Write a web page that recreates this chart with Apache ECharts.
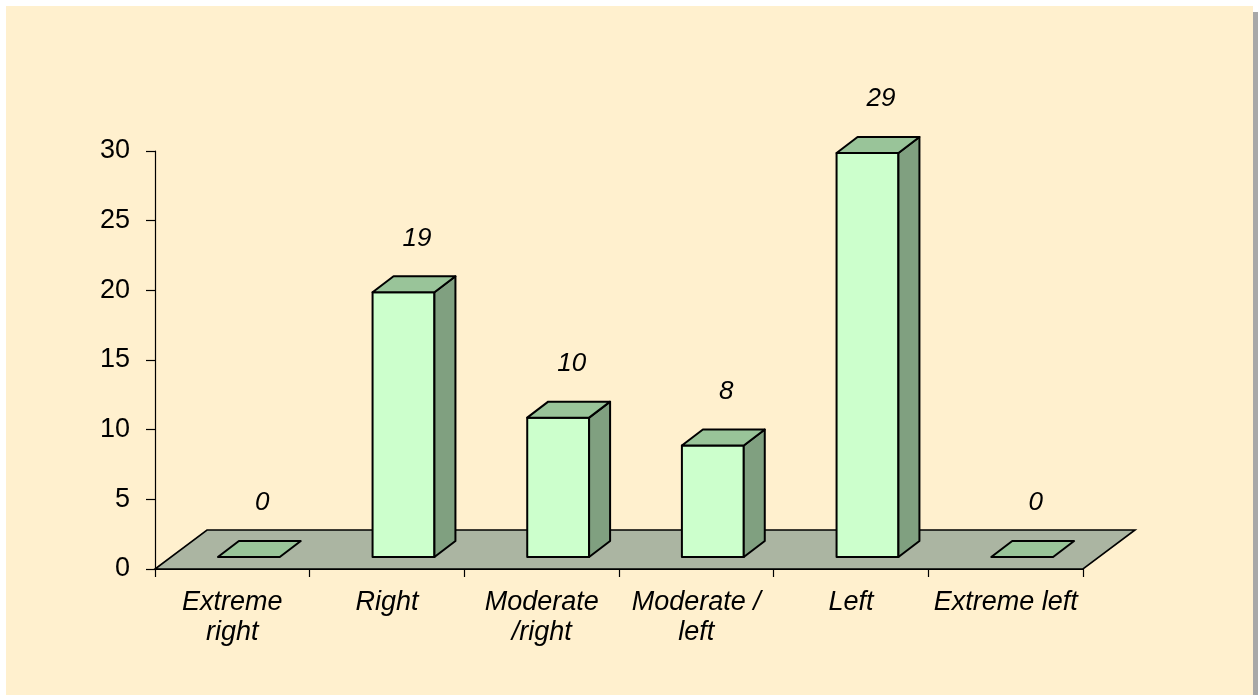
<!DOCTYPE html>
<html>
<head>
<meta charset="utf-8">
<script src="https://cdn.jsdelivr.net/npm/echarts@6/dist/echarts.min.js"></script>
<style>
html,body{margin:0;padding:0;background:#ffffff;}
#chart{width:1258px;height:695px;}
</style>
</head>
<body>
<div id="chart"></div>
<script>
var categories = ['Extreme\nright', 'Right', 'Moderate\n/right', 'Moderate /\nleft', 'Left', 'Extreme left'];
var values = [0, 19, 10, 8, 29, 0];
var yTicks = [0, 5, 10, 15, 20, 25, 30];

var FONT = '"Liberation Sans", Arial, sans-serif';
var chart = echarts.init(document.getElementById('chart'), null, {renderer: 'canvas'});

function floorRender(params, api) {
  var cs = params.coordSys;
  var x = cs.x, y = cs.y + cs.height, w = cs.width;
  var dx = 52, dy = 39;
  return {
    type: 'polygon',
    shape: {points: [[x, y], [x + w, y], [x + w + dx, y - dy], [x + dx, y - dy]]},
    style: {fill: '#ABB5A2', stroke: '#000', lineWidth: 1.6},
    z2: 0
  };
}

function barRender(params, api) {
  var idx = api.value(0), val = api.value(1);
  var base = api.coord([idx, 0]);
  var top = api.coord([idx, val]);
  var cw = api.size([1, 0])[0];
  var bw = cw * 0.40;
  var offX = 16.5, offY = 12, dX = 21, dY = 16;
  var cx = base[0] + offX;
  var x0 = cx - bw / 2, x1 = cx + bw / 2;
  var yb = base[1] - offY, yt = top[1] - offY;
  var children = [];
  var stroke = {stroke: '#000', lineWidth: 2, lineJoin: 'round'};
  if (val > 0) {
    children.push({type: 'polygon', shape: {points: [[x0, yb], [x1, yb], [x1, yt], [x0, yt]]},
      style: Object.assign({fill: '#CCFFCC'}, stroke)});
    children.push({type: 'polygon', shape: {points: [[x1, yb], [x1 + dX, yb - dY], [x1 + dX, yt - dY], [x1, yt]]},
      style: Object.assign({fill: '#80A080'}, stroke)});
  }
  children.push({type: 'polygon', shape: {points: [[x0, yt], [x1, yt], [x1 + dX, yt - dY], [x0 + dX, yt - dY]]},
    style: Object.assign({fill: '#99C499'}, stroke)});
  children.push({type: 'text', style: {
    text: String(values[idx]), x: cx + dX / 2 + 3, y: yt - dY - 38,
    font: 'italic 26px ' + FONT, fill: '#000', align: 'center', verticalAlign: 'middle'
  }});
  return {type: 'group', children: children};
}

var option = {
  animation: false,
  backgroundColor: 'transparent',
  graphic: [
    {type: 'rect', shape: {x: 10, y: 12, width: 1248, height: 683}, style: {fill: '#A8A8A8'}, z: -10, silent: true},
    {type: 'rect', shape: {x: 6, y: 6, width: 1247, height: 689}, style: {fill: '#FFF0CE'}, z: -9, silent: true}
  ],
  grid: {left: 155, right: 175, top: 151, bottom: 126, containLabel: false},
  xAxis: {
    type: 'category',
    data: categories,
    boundaryGap: true,
    axisLine: {show: true, lineStyle: {color: '#000', width: 1.2}},
    axisTick: {show: true, alignWithLabel: false, length: 8, lineStyle: {color: '#000', width: 1.2}},
    axisLabel: {
      interval: 0, margin: 18, color: '#000', fontSize: 27, fontStyle: 'italic',
      fontFamily: FONT, lineHeight: 30
    },
    splitLine: {show: false}
  },
  yAxis: {
    type: 'value',
    min: yTicks[0], max: yTicks[yTicks.length - 1], interval: 5,
    axisLine: {show: true, lineStyle: {color: '#000', width: 1.2}},
    axisTick: {show: true, length: 9, lineStyle: {color: '#000', width: 1.2}},
    axisLabel: {margin: 25, color: '#000', fontSize: 27, fontFamily: FONT},
    splitLine: {show: false}
  },
  series: [
    {type: 'custom', renderItem: floorRender, data: [[0, 0]], z: 1, silent: true, clip: false},
    {type: 'custom', renderItem: barRender, data: values.map(function (v, i) { return [i, v]; }),
      encode: {x: 0, y: 1}, z: 3, silent: true, clip: false}
  ]
};
chart.setOption(option);
</script>
</body>
</html>
